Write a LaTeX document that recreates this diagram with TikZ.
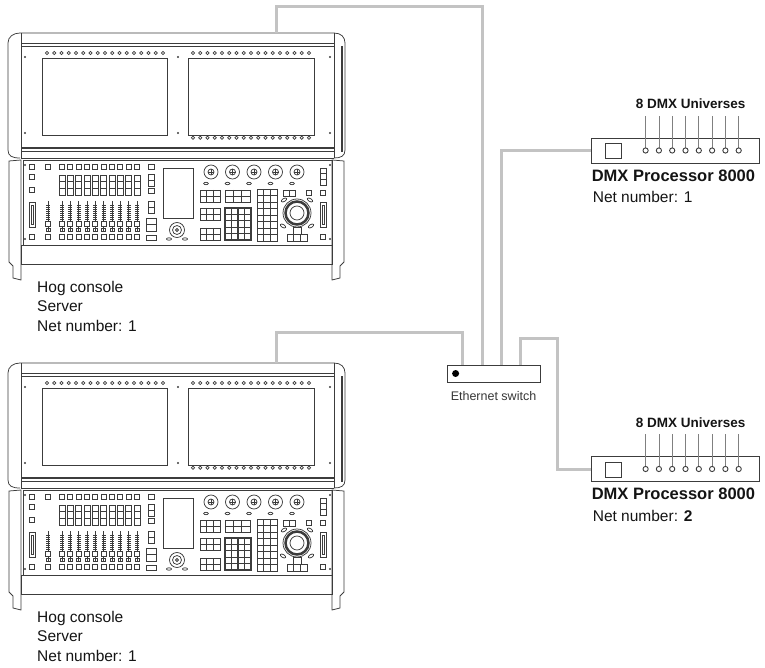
\documentclass[tikz,border=0pt]{standalone}
\usepackage{fontspec}
\setmainfont{Liberation Sans}
\usepackage{tikz}
\usetikzlibrary{positioning}
\usetikzlibrary{calc}
\definecolor{cablegray}{RGB}{195,195,195}
\definecolor{linegray}{RGB}{60,60,60}
\definecolor{textgray}{RGB}{20,20,20}
\tikzset{>=stealth}
\tikzstyle{cable} = [draw=cablegray, line width=3pt]
\tikzstyle{dmxbox} = [draw=linegray, line width=0.8pt, fill=white, minimum width=168pt, minimum height=25pt, inner sep=0pt]
\tikzstyle{switchbox} = [draw=linegray, line width=0.8pt, fill=white, minimum width=93pt, minimum height=17pt, inner sep=0pt]
\tikzstyle{hoglabel} = [anchor=north west, align=left, inner sep=0pt, text=textgray, font=\fontsize{15.5}{19.5}\selectfont]
\tikzstyle{netlabel} = [inner sep=0pt, text=textgray, font=\fontsize{15.5}{17}\selectfont]
\tikzstyle{dmxname} = [inner sep=0pt, text=textgray, font=\fontsize{16.5}{19}\selectfont\bfseries]
\tikzstyle{unilabel} = [inner sep=0pt, text=textgray, font=\fontsize{13.5}{15}\selectfont\bfseries]
\tikzstyle{smalllabel} = [inner sep=0pt, text=textgray!85, font=\fontsize{12.5}{14}\selectfont]
\newcommand{\keygrid}[6]{%
  \draw (#1,#2) rectangle (#3,#4);
  \foreach \k in {1,...,#5} \draw ({#1+(#3-#1)*\k/#5},#2) -- ({#1+(#3-#1)*\k/#5},#4);
  \foreach \k in {1,...,#6} \draw (#1,{#2+(#4-#2)*\k/#6}) -- (#3,{#2+(#4-#2)*\k/#6});
}
\tikzset{
  hogconsole/.pic={
    \begin{scope}[color=linegray, line width=0.75pt]
    %% housing
    \draw (20,158) .. controls (12,158) and (8,156) .. (8,150) -- (8,43)
      .. controls (8,37) and (13,33) .. (20,33) -- (334,33)
      .. controls (341,33) and (345,37) .. (345,43) -- (345,150)
      .. controls (345,156) and (341,158) .. (334,158);
    \draw (21,33) -- (21,158) (334,33) -- (334,158);
    \draw (21,43) -- (334,43) (21,46) -- (334,46) (21,151.5) -- (334,151.5) (21,158) -- (334,158);
    \draw[line width=1.3pt] (21,148) -- (334,148) (342,46) -- (342,152);
    \draw (21,160) -- (9,161) -- (9,262) -- (13,266) -- (13,278) -- (21,280) -- cycle;
    \draw (332,160) -- (344,161) -- (344,262) -- (340,266) -- (340,278) -- (332,280) -- cycle;
    \draw (23,160) rectangle (332,245);
    \draw (21,245) rectangle (332,264);
    %% screens
    \draw (42,58) rectangle (167,135);
    \draw (188,58) rectangle (314,135);
    \foreach \i in {0,...,16} {
      \draw (47+7.25*\i,53) circle (1.6);
      \draw (193+7.25*\i,53) circle (1.6);
      \draw (193+7.25*\i,137.8) circle (1.6);
    }
    \foreach \x/\y in {25/57,25/133,178/57,178/133,330/57,330/133,25/165,330/165,25/239,330/239}
      \fill (\x,\y) circle (1.1);
    %% playback section
    \foreach \x/\y in {32/167,32/177,32/190,32/237,48/167,48/237,323/193,309/193}
      \draw (\x-2.5,\y-2.5) rectangle +(5,5);
    \foreach \x in {62,70.3,78.7,87,95.3,103.7,112,120.3,128.7,137} {
      \draw (\x-2.5,164.5) rectangle +(5,5);
      \draw (\x-2.5,234.5) rectangle +(5,5);
      \keygrid{\x-3}{175}{\x+3}{195}{1}{3}
    }
    \foreach \x in {48,62,70.3,78.7,87,95.3,103.7,112,120.3,128.7,137} {
      \draw (\x,201) -- (\x,231);
      \foreach \t in {0,...,7} \draw (\x-2,{205+2*\t}) -- (\x+2,{205+2*\t});
      \draw[fill=white] (\x-2.5,221) rectangle (\x+2.5,226);
      \draw (\x-2,228) rectangle (\x+2,231);
    }
    \draw (29,202) rectangle (35,227) (31,205) rectangle (33,224);
    \draw (320,202) rectangle (326,227) (322,205) rectangle (324,224);
    \draw (148,164.5) rectangle +(6,5);
    \keygrid{148}{174}{154}{186}{1}{2}
    \draw (148,188) rectangle +(6,5);
    \keygrid{148}{201}{154}{213}{1}{2}
    \keygrid{146}{218}{156}{231}{1}{2}
    \draw (146,235) rectangle (156,240);
    \keygrid{320}{168}{326}{185}{1}{3}
    \draw (320.5,234.5) rectangle +(5,5);
    %% programmer section
    \draw (163,168) rectangle (193,218);
    \draw (177,230) circle (7.5) (177,230) circle (4.5) (177,230) circle (1.5);
    \draw (169,239) ellipse (2.5 and 1.2) (185,239) ellipse (2.5 and 1.2);
    \foreach \x in {211,232.5,254,275.5,297} {
      \draw (\x,172) circle (7) (\x,172) circle (3);
      \draw (\x-3,172) -- (\x+3,172) (\x,169) -- (\x,175);
      \draw (\x-5,183.5) ellipse (2.3 and 1.2);
    }
    \keygrid{200}{190}{220}{202}{3}{2}
    \keygrid{225}{190}{250}{202}{3}{2}
    \keygrid{200}{208}{220}{220}{3}{2}
    \keygrid{200}{228}{220}{240}{3}{2}
    \begin{scope}[line width=1.1pt]
      \keygrid{225}{208}{251}{240}{4}{5}
    \end{scope}
    \keygrid{257}{189}{277}{241}{3}{8}
    \keygrid{283}{190}{295}{196}{2}{1}
    %% trackball
    \draw[line width=2.5pt] (297,213) circle (11.5);
    \draw (297,213) circle (14) (297,213) circle (7);
    \foreach \x/\y/\a in {284/200/30,310/200/-30,283/226/-30,311/226/30}
      \draw[rotate around={\a:(\x,\y)}] (\x,\y) ellipse (3 and 1.5);
    \draw (293,227) rectangle (301,234);
    \keygrid{287}{234}{307}{241}{3}{1}
    \end{scope}
    \coordinate (-net) at (276,33);
    \node[hoglabel] (-label) at (37,281) {Hog console\\Server\\Net number: 1};
  }
}
\begin{document}
\begin{tikzpicture}[x=1pt, y=-1pt]
    \useasboundingbox (0,0) rectangle (765,668);
    \pic (con1) at (0,0) {hogconsole};
    \pic (con2) at (0,330) {hogconsole};
    \node [switchbox] (switch) at (493.5,373.5) {};
    \fill [black] ([xshift=9pt]switch.west) circle (3.5);
    \node [smalllabel, below=9pt of switch] (switchlabel) {Ethernet switch};
    \node [dmxbox] (dmx1) at (675,150.5) {};
    \node [dmxbox] (dmx2) at (675,469) {};
    \foreach \d/\n in {dmx1/1,dmx2/\textbf{2}} {
      \draw [linegray, line width=0.8pt] ($(\d.west)+(15,-7)$) rectangle +(16,15);
      \foreach \i in {0,...,7} {
        \draw [gray, line width=0.7pt] ($(\d.west)+({55+13.3*\i},-2.6)$) -- ++(0,-32);
        \draw [linegray, line width=0.9pt] ($(\d.west)+({55+13.3*\i},0)$) circle (2.6);
      }
      \node [unilabel] (\d-uni) at ($(\d.west)+(100,-46.5)$) {8 DMX Universes};
      \node [dmxname, below right=6pt and 1pt of \d.south west] (\d-name) {DMX Processor 8000};
      \node [netlabel, below right=10pt and 1pt of \d-name.south west] (\d-net) {Net number: \n};
    }
    %% Cables
    \coordinate (bend1) at (482,7);
    \coordinate (bend3) at (462,332);
    \coordinate (bend4) at (557,338);
    \path [cable] (con1-net) |- (bend1) -- (bend1 |- switch.north);
    \path [cable] (con2-net) |- (bend3) -- (bend3 |- switch.north);
    \path [cable] ([xshift=55pt]switch.north west) |- (dmx1.west);
    \path [cable] ([xshift=74pt]switch.north west) |- (bend4) |- (dmx2.west);
  \end{tikzpicture}
\end{document}
